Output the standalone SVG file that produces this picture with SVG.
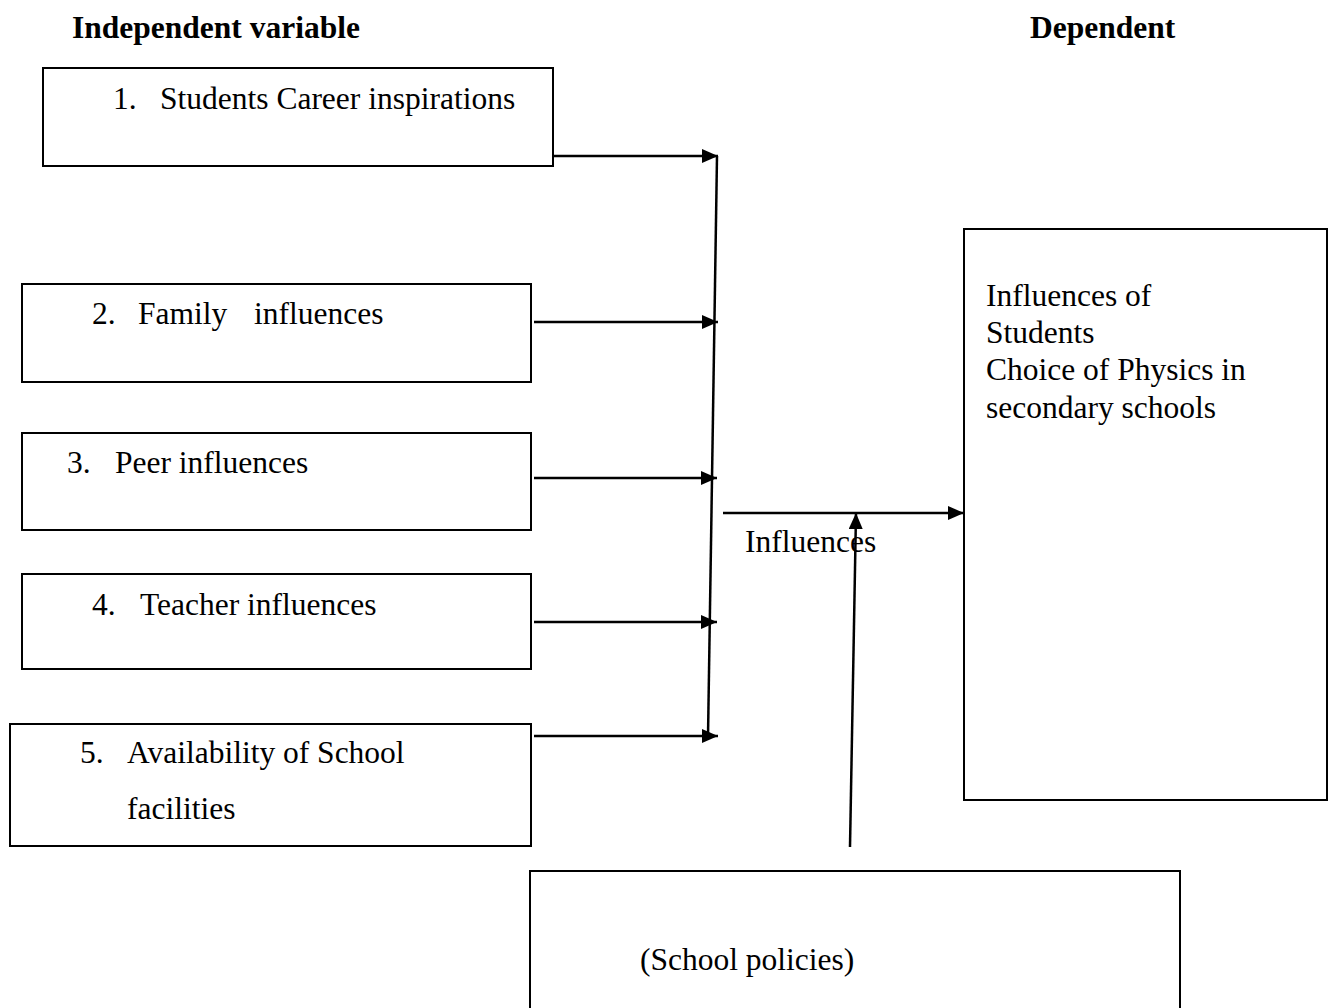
<svg xmlns="http://www.w3.org/2000/svg" width="1334" height="1008" viewBox="0 0 1334 1008">
<style>
text{font-family:"Liberation Serif","Times New Roman",serif;font-size:31.5px;fill:#000}
.b{font-weight:bold}
.box{fill:#fff;stroke:#000;stroke-width:2}
.ln{stroke:#000;stroke-width:2.5;fill:none}
</style>
<defs>
<marker id="a" markerWidth="16" markerHeight="14" refX="16" refY="7" orient="auto" markerUnits="userSpaceOnUse">
<path d="M0,0 L16,7 L0,14 Z" fill="#000"/>
</marker>
</defs>
<rect width="1334" height="1008" fill="#fff"/>
<text class="b" x="72" y="38">Independent variable</text>
<text class="b" x="1030" y="38">Dependent</text>
<g id="connectors">
<line class="ln" x1="553" y1="156" x2="718" y2="156" marker-end="url(#a)"/>
<line class="ln" x1="534" y1="322" x2="718" y2="322" marker-end="url(#a)"/>
<line class="ln" x1="534" y1="478" x2="717" y2="478" marker-end="url(#a)"/>
<line class="ln" x1="534" y1="622" x2="717" y2="622" marker-end="url(#a)"/>
<line class="ln" x1="534" y1="736" x2="718" y2="736" marker-end="url(#a)"/>
<line class="ln" x1="717" y1="156" x2="708" y2="737"/>
<line class="ln" x1="723" y1="513" x2="964" y2="513" marker-end="url(#a)"/>
<line class="ln" x1="850" y1="847" x2="856" y2="513" marker-end="url(#a)"/>
</g>
<g id="n1"><rect class="box" x="43" y="68" width="510" height="98"/><text x="113" y="109">1.</text><text x="160" y="109">Students Career inspirations</text></g>
<g id="n2"><rect class="box" x="22" y="284" width="509" height="98"/><text x="92" y="324">2.</text><text x="138" y="324">Family</text><text x="254" y="324">influences</text></g>
<g id="n3"><rect class="box" x="22" y="433" width="509" height="97"/><text x="67" y="473">3.</text><text x="115" y="473">Peer influences</text></g>
<g id="n4"><rect class="box" x="22" y="574" width="509" height="95"/><text x="92" y="615">4.</text><text x="140" y="615">Teacher influences</text></g>
<g id="n5"><rect class="box" x="10" y="724" width="521" height="122"/><text x="80" y="763">5.</text><text x="127" y="763">Availability of School</text><text x="127" y="819">facilities</text></g>
<g id="dep"><rect class="box" x="964" y="229" width="363" height="571"/><text x="986" y="306">Influences of</text><text x="986" y="343">Students</text><text x="986" y="380">Choice of Physics in</text><text x="986" y="418">secondary schools</text></g>
<g id="lbl"><text x="745" y="552">Influences</text></g>
<g id="pol"><rect class="box" x="530" y="871" width="650" height="160"/><text x="640" y="970">(School policies)</text></g>
</svg>
